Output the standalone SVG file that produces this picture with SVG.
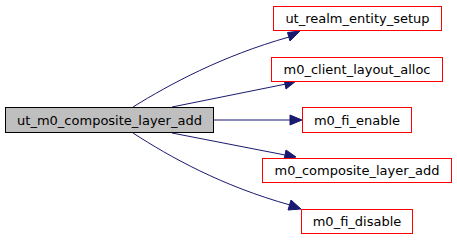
<svg xmlns="http://www.w3.org/2000/svg" width="457" height="240" viewBox="0 0 457 240">
  <style>
    .node rect { stroke-width: 1; }
    .root rect { fill: #bfbfbf; stroke: #000000; }
    .callee rect { fill: #ffffff; stroke: #ff0000; }
    text { font-family: "DejaVu Sans", "Liberation Sans", sans-serif; font-size: 13px; fill: #000000; text-anchor: middle; }
    .edge { fill: none; stroke: #191970; stroke-width: 1; }
    .head { fill: #191970; stroke: #191970; }
  </style>
  <rect x="0" y="0" width="457" height="240" fill="#ffffff"/>

  <g id="connectors">
    <path class="edge" d="M133,107 C170,84 222,56 289,37"/>
    <polygon class="head" points="287.5,32.5 300,31 290,41"/>
    <path class="edge" d="M172,107 L286,84"/>
    <polygon class="head" points="284,79 296,81 286,89"/>
    <path class="edge" d="M214,120 L291,120"/>
    <polygon class="head" points="290,115 302,120 290,125"/>
    <path class="edge" d="M172,133 L285,155"/>
    <polygon class="head" points="286,150 296,157 284,160"/>
    <path class="edge" d="M133,133 C170,157 222,186 290,205"/>
    <polygon class="head" points="291,200 301,209 288,210"/>
  </g>

  <g id="node-ut_m0_composite_layer_add" class="node root">
    <rect x="5.5" y="107.5" width="208" height="25"/>
    <text x="109.5" y="124.5">ut_m0_composite_layer_add</text>
  </g>
  <g id="node-ut_realm_entity_setup" class="node callee">
    <rect x="273.5" y="6.5" width="168" height="24"/>
    <text x="357.5" y="23">ut_realm_entity_setup</text>
  </g>
  <g id="node-m0_client_layout_alloc" class="node callee">
    <rect x="271.5" y="57.5" width="171" height="24"/>
    <text x="357" y="74">m0_client_layout_alloc</text>
  </g>
  <g id="node-m0_fi_enable" class="node callee">
    <rect x="302.5" y="107.5" width="109" height="25"/>
    <text x="357" y="124.5">m0_fi_enable</text>
  </g>
  <g id="node-m0_composite_layer_add" class="node callee">
    <rect x="262.5" y="158.5" width="189" height="24"/>
    <text x="357" y="175">m0_composite_layer_add</text>
  </g>
  <g id="node-m0_fi_disable" class="node callee">
    <rect x="301.5" y="209.5" width="111" height="24"/>
    <text x="357" y="226">m0_fi_disable</text>
  </g>
</svg>
